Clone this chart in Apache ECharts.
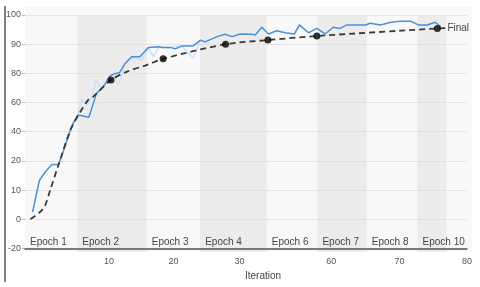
<!DOCTYPE html>
<html><head><meta charset="utf-8">
<script src="https://cdn.jsdelivr.net/npm/echarts@6/dist/echarts.min.js"></script>
<style>html,body{margin:0;padding:0;background:#fff}#c{width:480px;height:287px}</style>
</head><body><div id="c"></div>
<script>
// ---- axis definitions (tick labels) ----
const xTickValues = [10, 20, 30, 60, 70, 80];
const yTickValues = [-20, 0, 10, 20, 40, 60, 80, 90, 100];
// piecewise x scale knots (iteration -> relative axis position)
const xKnotIter = [0, 10, 20, 30, 60, 70, 80];
const xKnotPos  = [0, 84, 148.3, 214.3, 306, 374.3, 441.7];

// ---- accuracy (smoothed) ----
const accIter = [0.9,1.7,2.4,3.2,4.0,4.6,5.4,5.8,6.3,7.6,8.5,9.3,10.2,10.7,11.6,12.5,13.5,14.8,16.1,17.7,18.4,19.5,20.3,21.3,23.0,24.1,24.8,26.6,27.8,28.9,30.2,34.1,35.1,37.3,39.5,42.2,44.9,48.0,49.6,52.6,55.3,58.0,60.3,61.3,62.3,65.0,65.7,67.2,68.6,70.1,71.6,72.8,74.1,75.3,76.1];
const accValues = [2.5,13.2,16.2,18.8,18.8,27.4,41.1,46.8,51.4,50.0,66.3,70.8,78.4,79.5,80.2,83.4,85.7,85.7,88.9,89.1,88.9,88.9,88.4,89.4,89.4,91.4,90.8,92.6,93.4,92.6,93.5,93.4,93.1,95.8,93.5,94.6,93.9,93.5,96.6,93.9,95.4,93.5,95.8,95.4,96.6,96.6,97.2,96.6,97.4,97.9,97.9,96.6,96.6,97.5,96.0];
// ---- raw accuracy (faint) ----
const rawIter = [5.4,6.2,6.8,7.4,7.9,8.5,9.1,9.7,10.2,11.5,12.5,13.5,15.1,16.1,16.9,17.7,19.5,21.3,23.0,24.1];
const rawValues = [41.1,50.7,62.8,58.3,63.9,75.4,68.5,75.4,78.4,72.0,83.4,85.2,84.6,88.6,85.7,88.9,88.9,89.4,85.2,91.4];
// ---- fitted trend (dashed) ----
const fitIter = [0.65,1.8,2.4,3.0,4.0,5.4,6.35,7.5,8.1,10.3,12.8,15.9,18.4,27.9,39.3,55.3,75.6,76.8];
const fitValues = [0,2.5,4.8,10,18.8,41.1,51.4,61.7,63.9,75.4,80.6,82.9,85.0,90.0,91.4,92.8,95.4,95.5];
// ---- epoch checkpoints ----
const checkpointIter = [10.3,18.4,27.9,39.3,55.3,75.6];
const checkpointValues = [75.4,85.0,90.0,91.4,92.8,95.4];
// ---- epochs ----
const epochLabels = ['Epoch 1','Epoch 2','Epoch 3','Epoch 4','Epoch 6','Epoch 7','Epoch 8','Epoch 10'];
const epochStarts = [0,6.23,15.86,24.05,38.95,55.5,65.2,72.67];
const epochEnds   = [6.23,15.86,24.05,38.95,55.5,65.2,72.67,76.93];

function interp(v, xs, ys) {
  let i = 0;
  while (i < xs.length - 2 && v > xs[i + 1]) i++;
  const t = (v - xs[i]) / (xs[i + 1] - xs[i]);
  return ys[i] + t * (ys[i + 1] - ys[i]);
}
const yIdx = yTickValues.map((_, i) => i);
const xScale = v => interp(v, xKnotIter, xKnotPos);
const yScale = v => interp(v, yTickValues, yIdx);
const pts = (xs, ys) => xs.map((x, i) => [xScale(x), yScale(ys[i])]);

const xTickPos = xTickValues.map(xScale);
const FONT = 'Liberation Sans, Arial, sans-serif';

const bands = epochLabels.map((name, i) => [
  { xAxis: xScale(epochStarts[i]), name: name,
    itemStyle: { color: i % 2 === 1 ? '#ececec' : 'rgba(0,0,0,0)' } },
  { xAxis: xScale(epochEnds[i]) }
]);

const chart = echarts.init(document.getElementById('c'), null, { renderer: 'canvas' });
chart.setOption({
  animation: false,
  textStyle: { fontFamily: FONT },
  graphic: [
    { type: 'rect', z: -10, shape: { x: 25, y: 7, width: 447, height: 245 }, style: { fill: '#f8f8f8' } },
    { type: 'line', shape: { x1: 5, y1: 6, x2: 5, y2: 282 }, style: { stroke: '#555', lineWidth: 1.5 } }
  ],
  grid: { left: 25, right: 13, top: 15, bottom: 35 },
  xAxis: {
    type: 'value', min: 0, max: 441.7, z: 10,
    name: 'Iteration', nameLocation: 'middle', nameGap: 19,
    nameTextStyle: { color: '#444', fontSize: 10, fontFamily: FONT, padding: [0, 0, 0, 34] },
    axisLine: { show: true, lineStyle: { color: '#555', width: 1.5 } },
    axisTick: { show: false, customValues: xTickPos },
    splitLine: { show: false },
    axisLabel: {
      customValues: xTickPos, color: '#555', fontSize: 9, fontFamily: FONT, margin: 5,
      formatter: v => { const i = xTickPos.findIndex(p => Math.abs(p - v) < 0.01); return i >= 0 ? String(xTickValues[i]) : ''; }
    }
  },
  yAxis: {
    type: 'value', min: -0.12, max: 8,
    axisLine: { show: false },
    axisTick: { show: true, length: 3, customValues: yIdx, lineStyle: { color: '#bbb' } },
    splitLine: { show: true, lineStyle: { color: '#e3e3e3', width: 1 } },
    axisLabel: {
      customValues: yIdx, color: '#555', fontSize: 9, fontFamily: FONT, margin: 4,
      formatter: v => { const i = Math.round(v); return Math.abs(v - i) < 0.01 ? String(yTickValues[i]) : ''; }
    }
  },
  series: [
    {
      type: 'line', z: -1, data: [], silent: true,
      markArea: {
        silent: true, z: -1,
        label: { show: true, position: 'insideBottomLeft', formatter: '{b}', color: '#444', fontSize: 10, fontFamily: FONT, distance: 5 },
        data: bands
      }
    },
    {
      type: 'line', z: 2, data: pts(rawIter, rawValues), symbol: 'none',
      lineStyle: { color: '#cde1f6', width: 1.5 }
    },
    {
      type: 'line', z: 3, data: pts(accIter, accValues), symbol: 'none',
      lineStyle: { color: '#4a90d9', width: 1.5 }
    },
    {
      type: 'line', z: 4, data: pts(fitIter, fitValues), symbol: 'none', smooth: 0.3,
      lineStyle: { color: '#3a3a3a', width: 1.8, type: [6, 4] },
      endLabel: { show: true, formatter: 'Final', color: '#444', fontSize: 10, fontFamily: FONT, distance: 2 }
    },
    {
      type: 'scatter', z: 5, data: pts(checkpointIter, checkpointValues),
      symbolSize: 7, itemStyle: { color: '#000' }
    }
  ]
});
</script>
</body></html>
